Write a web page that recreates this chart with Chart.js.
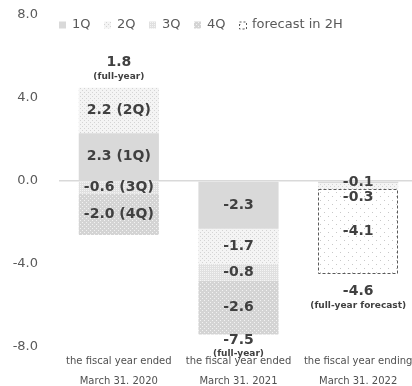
<!DOCTYPE html>
<html><head><meta charset="utf-8">
<script src="https://cdn.jsdelivr.net/npm/chart.js@4.4.1/dist/chart.umd.min.js"></script>
<style>
html,body{margin:0;padding:0;overflow:hidden;background:#fff;width:412px;height:386px;}
#wrap{position:absolute;left:0;top:0;width:420px;height:395px;}
</style></head>
<body><div id="wrap"><canvas id="c"></canvas></div>
<script>
const categories = [
  ['the fiscal year ended', 'March 31. 2020'],
  ['the fiscal year ended', 'March 31. 2021'],
  ['the fiscal year ending', 'March 31. 2022']
];
const q1 = [2.3, -2.3, -0.1];
const q2 = [2.2, -1.7, -0.3];
const q3 = [-0.6, -0.8, null];
const q4 = [-2.0, -2.6, null];
const forecast2H = [null, null, -4.1];
const totals = [1.8, -7.5, -4.6];
const totalNotes = ['(full-year)', '(full-year)', '(full-year forecast)'];
const showQuarterTag = [true, false, false];
const yTicks = [-8, -4, 0, 4, 8];

function makePattern(bg, dot, step, pts) {
  const c = document.createElement('canvas');
  c.width = step; c.height = step;
  const x = c.getContext('2d');
  x.fillStyle = bg; x.fillRect(0, 0, step, step);
  x.fillStyle = dot;
  pts.forEach(p => x.fillRect(p[0], p[1], 1, 1));
  return x.createPattern(c, 'repeat');
}
const fill1 = '#d9d9d9';
const fill2 = makePattern('#f4f4f4', '#d4d4d4', 4, [[0,0],[2,2]]);
const fill3 = makePattern('#e0e0e0', '#f4f4f4', 2, [[0,0]]);
const fill4 = makePattern('#d4d4d4', '#f2f2f2', 4, [[0,0],[2,2]]);
const fillF = makePattern('#ffffff', '#c8c8c8', 8, [[0,0],[4,4]]);

const labelColor = '#404040';
const axisColor = '#595959';

const valueLabels = {
  id: 'valueLabels',
  afterDatasetsDraw(chart) {
    const ctx = chart.ctx;
    ctx.save();
    ctx.textAlign = 'center';
    ctx.textBaseline = 'middle';
    ctx.fillStyle = labelColor;
    ctx.font = 'bold 14px "DejaVu Sans"';
    chart.data.datasets.forEach((ds, di) => {
      const meta = chart.getDatasetMeta(di);
      meta.data.forEach((el, i) => {
        const v = ds.data[i];
        if (v === null || v === undefined) return;
        if (ds.dashedBorder) {
          ctx.save();
          ctx.strokeStyle = '#595959';
          ctx.lineWidth = 1;
          ctx.setLineDash([3, 2]);
          const w = el.width;
          ctx.strokeRect(Math.round(el.x - w / 2) + 0.5, Math.round(Math.min(el.y, el.base)) + 0.5, Math.round(w) - 1, Math.round(Math.abs(el.base - el.y)) - 1);
          ctx.restore();
        }
        const dy = (ds.labelDy && ds.labelDy[i]) || 0;
        const txt = v.toFixed(1) + (showQuarterTag[i] ? ' (' + ds.label + ')' : '');
        ctx.fillText(txt, el.x, (el.y + el.base) / 2 + dy);
      });
    });
    // totals
    const noteOffsets = [[-25, -11], [6, 19], [17, 31]];
    categories.forEach((c, i) => {
      let top = Infinity, bottom = -Infinity, x = 0;
      chart.data.datasets.forEach((ds, di) => {
        const el = chart.getDatasetMeta(di).data[i];
        if (ds.data[i] === null || ds.data[i] === undefined) return;
        top = Math.min(top, el.y, el.base);
        bottom = Math.max(bottom, el.y, el.base);
        x = el.x;
      });
      const ref = totals[i] >= 0 ? top : bottom;
      ctx.font = 'bold 14px "DejaVu Sans"';
      ctx.fillText(totals[i].toFixed(1), x, ref + noteOffsets[i][0]);
      ctx.font = 'bold 9px "DejaVu Sans"';
      ctx.fillText(totalNotes[i], x, ref + noteOffsets[i][1]);
    });
    // legend
    ctx.font = '13px "DejaVu Sans"';
    ctx.textAlign = 'left';
    let lx = chart.chartArea.left;
    const cy = chart.chartArea.top + 10;
    chart.data.datasets.forEach(ds => {
      ctx.fillStyle = ds.backgroundColor;
      ctx.fillRect(lx, cy - 3.5, 7, 7);
      if (ds.dashedBorder) {
        ctx.save();
        ctx.strokeStyle = '#595959';
        ctx.lineWidth = 1;
        ctx.setLineDash([2, 2]);
        ctx.strokeRect(lx + 0.5, cy - 3.5 + 0.5, 7, 7);
        ctx.restore();
      }
      ctx.fillStyle = axisColor;
      ctx.fillText(ds.label, lx + 13, cy);
      lx += 13 + ctx.measureText(ds.label).width + 13.5;
    });
    ctx.restore();
  }
};

new Chart(document.getElementById('c'), {
  type: 'bar',
  data: {
    labels: categories,
    datasets: [
      { label: '1Q', data: q1, backgroundColor: fill1 },
      { label: '2Q', data: q2, backgroundColor: fill2, labelDy: [0, 0, 11] },
      { label: '3Q', data: q3, backgroundColor: fill3 },
      { label: '4Q', data: q4, backgroundColor: fill4 },
      { label: 'forecast in 2H', data: forecast2H, backgroundColor: fillF, dashedBorder: true }
    ]
  },
  options: {
    responsive: true,
    maintainAspectRatio: false,
    animation: false,
    devicePixelRatio: 1,
    layout: { padding: { left: 10, top: 15, right: 2, bottom: 0 } },
    datasets: { bar: { categoryPercentage: 1, barPercentage: 0.67, borderWidth: 0 } },
    plugins: {
      tooltip: { enabled: false },
      legend: { display: false }
    },
    scales: {
      x: {
        stacked: true,
        grid: { display: false, drawTicks: false },
        border: { display: false },
        afterFit(scale) { scale.paddingLeft = 0; scale.paddingRight = 0; },
        ticks: {
          color: '#505050',
          font: { family: '"DejaVu Sans"', size: 10, lineHeight: 2 },
          padding: 4,
          maxRotation: 0,
          autoSkip: false
        }
      },
      y: {
        stacked: true,
        min: -8,
        max: 8,
        afterBuildTicks(axis) { axis.ticks = yTicks.map(v => ({ value: v })); },
        afterFit(scale) { scale.width = 49; scale.paddingTop = 0; scale.paddingBottom = 0; },
        grid: {
          drawTicks: false,
          color: ctx => (ctx.tick && ctx.tick.value === 0) ? '#d9d9d9' : 'rgba(0,0,0,0)',
          lineWidth: 1.5
        },
        border: { display: false },
        ticks: {
          color: axisColor,
          font: { family: '"DejaVu Sans"', size: 13 },
          padding: 21,
          callback: v => Number(v).toFixed(1)
        }
      }
    }
  },
  plugins: [valueLabels]
});
</script>
</body></html>
